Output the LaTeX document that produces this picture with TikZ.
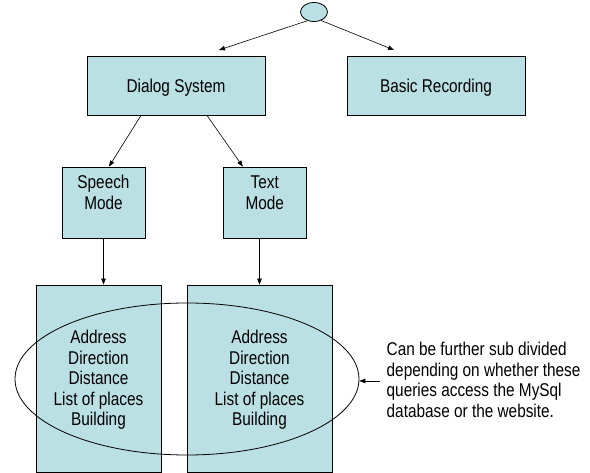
\documentclass[tikz,border=0pt]{standalone}
\usepackage{fontspec}
\setmainfont{Liberation Sans}
\newfontfamily\arialx[FakeStretch=0.83]{Liberation Sans}
\usetikzlibrary{arrows.meta,shapes.geometric}
\definecolor{boxfill}{RGB}{187,224,227}
\begin{document}
\begin{tikzpicture}[x=1pt,y=-1pt,
  box/.style={draw=black, fill=boxfill, line width=0.8pt, inner sep=0pt, rectangle},
  lbl/.style={inner sep=0pt, align=center, font=\arialx\fontsize{18.5}{20.5}\selectfont},
  arr/.style={-{Triangle[length=6pt,width=4.5pt]}, line width=0.6pt}]
\useasboundingbox (0,0) rectangle (590,473);
% nodes
\node[draw=black, fill=boxfill, ellipse, minimum width=27pt, minimum height=19pt, inner sep=0pt, line width=0.8pt] (root) at (314,12) {};
\node[box, lbl, text depth=0pt, minimum width=178pt, minimum height=59pt] (ds) at (176,85.5) {Dialog System};
\node[box, lbl, text depth=0pt, minimum width=178pt, minimum height=59pt] (br) at (436,85.5) {Basic Recording};
\node[box, minimum width=83pt, minimum height=71pt] (sm) at (103.5,202.5) {};
\node[lbl, anchor=north] (smt) at (103.5,175) {Speech\\Mode};
\node[box, minimum width=83pt, minimum height=71pt] (tm) at (264.8,202.5) {};
\node[lbl, anchor=north] (tmt) at (264.8,176) {Text\\Mode};
\node[box, minimum width=125pt, minimum height=187pt] (lb) at (98.5,378.5) {};
\node[lbl] (lbt) at (98.5,380) {Address\\Direction\\Distance\\List of places\\Building};
\node[box, minimum width=145pt, minimum height=187pt] (rb) at (259.5,378.5) {};
\node[lbl] (rbt) at (259.5,380) {Address\\Direction\\Distance\\List of places\\Building};
\node[draw=black, ellipse, minimum width=344pt, minimum height=152pt, inner sep=0pt, line width=0.8pt] (grp) at (187,379) {};
\node[lbl, align=left, anchor=west, inner xsep=6.5pt, inner ysep=0pt] (note) at (380,380)
  {Can be further sub divided\\depending on whether these\\queries access the MySql\\database or the website.};
% connector ends
\coordinate (dsin) at (219,50);
\coordinate (brin) at (394,50);
% connectors
\draw[arr] (root.-127) -- (dsin);
\draw[arr] (root.-50) -- (brin);
\draw[arr] ([xshift=-35pt]ds.south) -- ([xshift=5.5pt]sm.north);
\draw[arr] ([xshift=31pt]ds.south) -- ([xshift=-22pt]tm.north);
\draw[arr] (sm.south) -- (sm.south |- lb.north);
\draw[arr] (tm.south -| rb.north) -- (rb.north);
\draw[arr] ([yshift=-1pt]note.west) -- ([yshift=-1pt]note.west -| grp.east);
\end{tikzpicture}
\end{document}
